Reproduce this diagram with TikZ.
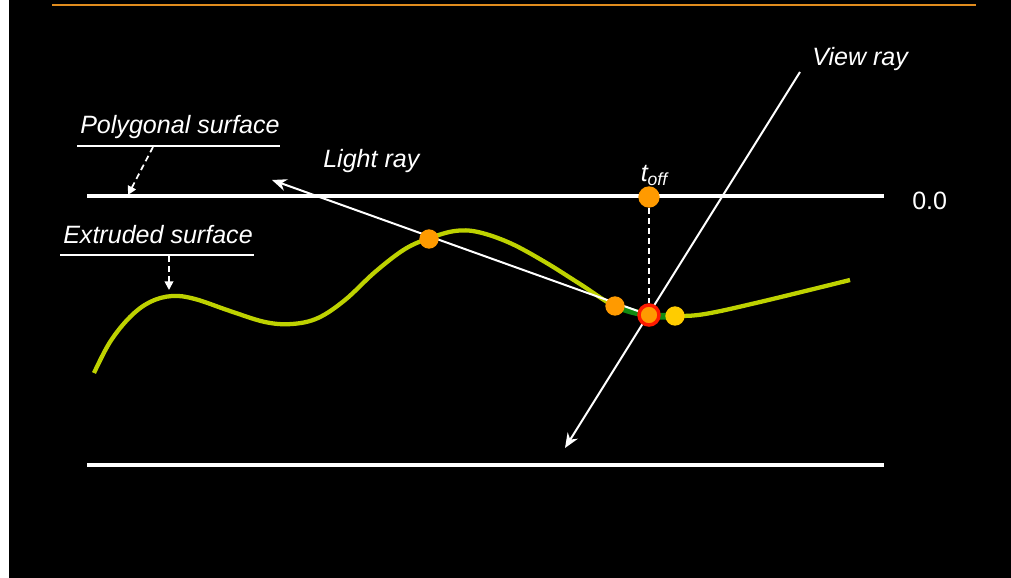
\documentclass[tikz,border=0pt]{standalone}
\usepackage{fontspec}
\setmainfont{Liberation Sans}
\usepackage{tikz}
\usetikzlibrary{positioning, arrows.meta}
\definecolor{cCurve}{HTML}{BED200}
\definecolor{cGreen}{HTML}{128A12}
\definecolor{cOrange}{HTML}{FF9A00}
\definecolor{cYellow}{HTML}{FFCC00}
\definecolor{cRed}{HTML}{FF1A00}
\definecolor{cRule}{HTML}{E08C1E}
\tikzset{
  lbl/.style={font=\fontsize{18.8}{22}\selectfont\itshape, text=white, inner sep=0pt},
  level/.style={draw=white, line width=2.4pt},
  ray/.style={draw=white, line width=1.5pt, -{Stealth[length=11pt, width=9pt]}},
  hint/.style={draw=white, line width=1.3pt, dash pattern=on 4.5pt off 3pt,
    -{Triangle[length=6.5pt, width=6.5pt]}},
  uline/.style={draw=white, line width=0.8pt},
  dot/.style={circle, fill=cOrange, minimum size=14.5pt, inner sep=0pt},
}

\begin{document}
\begin{tikzpicture}[x=0.75pt, y=-0.75pt]
  \useasboundingbox (0,0) rectangle (1011,578);
  \fill[white] (0,0) rectangle (9,578);
  \fill[black] (9,0) rectangle (1011,578);
  \draw[cRule, line width=1.6pt] (52,5) -- (976,5);

  % levels
  \coordinate (topL) at (87,196);
  \coordinate (topR) at (884,196);
  \coordinate (botL) at (87,465);
  \coordinate (botR) at (884,465);
  \draw[level] (topL) -- (topR);
  \draw[level] (botL) -- (botR);
  \node[lbl, font=\fontsize{18.8}{22}\selectfont, anchor=base west] (zero) at (912,209) {0.0};

  % extruded surface
  \draw[cCurve, line width=3.2pt] plot[smooth, tension=0.6] coordinates {
    (94,373) (110,342) (130,317) (150,302) (172,296) (195,299) (230,311)
    (265,322) (292,324) (318,318) (345,300) (375,272) (405,249) (430,238)
    (455,231) (478,232) (510,243) (545,262) (580,284) (615,306) (649,315)
    (675,316) (705,314) (760,302) (850,280)};
  \draw[cGreen, line width=5pt] plot[smooth, tension=0.55] coordinates {
    (615,306) (632,311.5) (649,315) (662,316.3) (675,316)};

  % points
  \coordinate (hitC) at (649,315);
  \coordinate (lightEnd) at (272,180);
  \coordinate (viewTop) at (800,72);
  \coordinate (viewEnd) at (565,448);
  \draw[ray] (hitC) -- (lightEnd);
  \draw[ray] (viewTop) -- (viewEnd);

  \node[dot] (exit) at (429,239) {};
  \node[dot] (near) at (615,306) {};
  \node[dot, fill=cYellow] (far) at (675,316) {};
  \node[dot, draw=cRed, line width=2.6pt, minimum size=15pt] (hit) at (hitC) {};
  \node[dot, minimum size=16pt] (toff) at (649,197) {};
  \draw[draw=white, line width=1.3pt, dash pattern=on 4.5pt off 3pt] (toff) -- (hit);
  \node[lbl, anchor=base, xshift=4pt] (toffLbl) at (649,181) {t\textsubscript{off}};

  % labels
  \node[lbl, anchor=base west] (viewLbl) at (812,65) {View ray};
  \node[lbl, anchor=base west] (lightLbl) at (323,167) {Light ray};
  \node[lbl, anchor=base west] (polyLbl) at (80,133) {Polygonal surface};
  \node[lbl, anchor=base west] (extrLbl) at (63,243) {Extruded surface};

  \coordinate (polyUL) at (77,146);
  \coordinate (polyUR) at (280,146);
  \coordinate (extrUL) at (60,255);
  \coordinate (extrUR) at (254,255);
  \draw[uline] (polyUL) -- (polyUR);
  \draw[uline] (extrUL) -- (extrUR);
  \coordinate (polyTip) at (128,195);
  \coordinate (extrTip) at (169,290);
  \draw[hint] (153,147) -- (polyTip);
  \draw[hint] (169,256) -- (extrTip);
\end{tikzpicture}
\end{document}
